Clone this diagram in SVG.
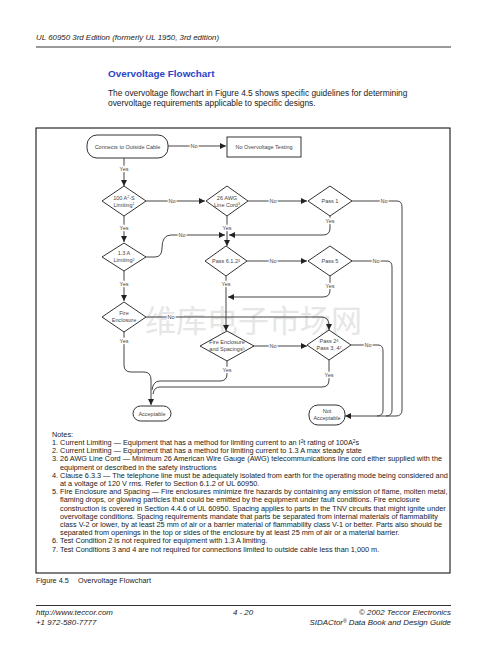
<svg xmlns="http://www.w3.org/2000/svg" width="504" height="648" viewBox="0 0 504 648">
<style>
.hdr{font-family:"Liberation Sans",Arial,sans-serif;font-style:italic;font-size:7.9px;fill:#222}
.ttl{font-family:"Liberation Sans",Arial,sans-serif;font-weight:bold;font-size:9.9px;fill:#2b44c8}
.para{font-family:"Liberation Sans",Arial,sans-serif;font-size:8.4px;fill:#222}
.note{font-family:"Liberation Sans",Arial,sans-serif;font-size:7.3px;fill:#222}
.fc{font-family:"Liberation Sans",Arial,sans-serif;font-size:5.5px;fill:#444;text-anchor:middle}
.lbl{font-family:"Liberation Sans",Arial,sans-serif;font-size:5.5px;fill:#444;text-anchor:middle;stroke:#fff;stroke-width:2.5px;paint-order:stroke}
.shape{fill:#fff;stroke:#333;stroke-width:1}
.con{fill:none;stroke:#444;stroke-width:1}
.wm{font-family:"Noto Sans CJK SC",sans-serif;font-size:31px;fill:#e6e6e6}
</style>
<defs>
<marker id="ah" viewBox="0 0 10 10" refX="10" refY="5" markerWidth="6" markerHeight="6" markerUnits="userSpaceOnUse" orient="auto">
<path d="M0,0 L10,5 L0,10 z" fill="#222"/>
</marker>
</defs>
<rect width="504" height="648" fill="#fff"/>
<text class="hdr" x="36" y="40">UL 60950 3rd Edition (formerly UL 1950, 3rd edition)</text>
<line x1="36" y1="47" x2="451" y2="47" stroke="#000" stroke-width="0.8"/>
<text class="ttl" x="108" y="77">Overvoltage Flowchart</text>
<text class="para" x="108" y="96">The overvoltage flowchart in Figure 4.5 shows specific guidelines for determining</text>
<text class="para" x="108" y="106">overvoltage requirements applicable to specific designs.</text>
<rect x="36" y="128" width="414" height="445" fill="none" stroke="#000" stroke-width="1"/>
<text class="wm" x="145" y="332">维库电子市场网</text>
<g id="connectors">
<path class="con" d="M168,146 H226" marker-end="url(#ah)"/>
<path class="con" d="M124,158 V186" marker-end="url(#ah)"/>
<path class="con" d="M146,201 H205" marker-end="url(#ah)"/>
<path class="con" d="M248,201 H307" marker-end="url(#ah)"/>
<path class="con" d="M352,201 H397 Q402,201 402,207 V410 Q402,416 396,416 H345" marker-end="url(#ah)"/>
<path class="con" d="M351,261 H387 Q392,261 392,267 V410 Q392,416 386,416"/>
<path class="con" d="M351,345 H378 Q383,345 383,351 V410 Q383,416 377,416"/>
<path class="con" d="M124,216 V242" marker-end="url(#ah)"/>
<path class="con" d="M227,216 V246" marker-end="url(#ah)"/>
<path class="con" d="M146,257 H155 Q162,257 162,248 Q162,235 171,235 H225" marker-end="url(#ah)"/>
<path class="con" d="M330,216 V228 Q330,235 323,235 H229" marker-end="url(#ah)"/>
<path class="con" d="M124,271 V301" marker-end="url(#ah)"/>
<path class="con" d="M247,261 H307" marker-end="url(#ah)"/>
<path class="con" d="M226,276 V331" marker-end="url(#ah)"/>
<path class="con" d="M330,275 V290 Q330,297 323,297 H228" marker-end="url(#ah)"/>
<path class="con" d="M146,317 H321 Q329,317 329,325 V330" marker-end="url(#ah)"/>
<path class="con" d="M124,332 V365 Q124,372 131,372 H144 Q151,372 151,380 V405" marker-end="url(#ah)"/>
<path class="con" d="M227,361 V374 Q227,381 220,381 H160 Q153,381 152,390"/>
<path class="con" d="M329,360 V380 Q329,387 322,387 H160 Q154,387 153,394"/>
<path class="con" d="M253,346 H307" marker-end="url(#ah)"/>
<text class="lbl" x="194" y="148">No</text>
<text class="lbl" x="124" y="171">Yes</text>
<text class="lbl" x="172" y="203">No</text>
<text class="lbl" x="273" y="203">No</text>
<text class="lbl" x="384" y="203">No</text>
<text class="lbl" x="124" y="230">Yes</text>
<text class="lbl" x="227" y="230">Yes</text>
<text class="lbl" x="330" y="223">Yes</text>
<text class="lbl" x="182" y="237">No</text>
<text class="lbl" x="273" y="263">No</text>
<text class="lbl" x="376" y="263">No</text>
<text class="lbl" x="124" y="286">Yes</text>
<text class="lbl" x="226" y="286">Yes</text>
<text class="lbl" x="330" y="288">Yes</text>
<text class="lbl" x="171" y="319">No</text>
<text class="lbl" x="124" y="343">Yes</text>
<text class="lbl" x="273" y="348">No</text>
<text class="lbl" x="368" y="347">No</text>
<text class="lbl" x="227" y="372">Yes</text>
<text class="lbl" x="329" y="377">Yes</text>
</g>
<g id="start">
<rect class="shape" x="87" y="135" width="81" height="23" rx="10"/>
<text class="fc" x="127.5" y="148.5">Connects to Outside Cable</text>
</g>
<g id="no-testing">
<rect class="shape" x="227" y="137" width="74" height="20"/>
<text class="fc" x="264" y="149">No Overvoltage Testing</text>
</g>
<g id="d-100a2s">
<path class="shape" d="M102,201 L124,186 L146,201 L124,216 z"/>
<text class="fc" x="124" y="199.5">100 A<tspan dy="-1.5" font-size="3.6">2</tspan><tspan dy="1.5">-S</tspan></text>
<text class="fc" x="124" y="206.5">Limiting<tspan dy="-1.5" font-size="3.6">1</tspan></text>
</g>
<g id="d-26awg">
<path class="shape" d="M206,201 L227,186 L248,201 L227,216 z"/>
<text class="fc" x="227" y="199.5">26 AWG</text>
<text class="fc" x="227" y="206.5">Line Cord<tspan dy="-1.5" font-size="3.6">3</tspan></text>
</g>
<g id="d-pass1">
<path class="shape" d="M308,201 L330,186 L352,201 L330,216 z"/>
<text class="fc" x="330" y="203">Pass 1</text>
</g>
<g id="d-13a">
<path class="shape" d="M102,257 L124,243 L146,257 L124,271 z"/>
<text class="fc" x="124" y="255">1.3 A</text>
<text class="fc" x="124" y="262">Limiting<tspan dy="-1.5" font-size="3.6">2</tspan></text>
</g>
<g id="d-pass612">
<path class="shape" d="M205,261 L226,246 L247,261 L226,276 z"/>
<text class="fc" x="226" y="263">Pass 6.1.2<tspan dy="-1.5" font-size="3.6">4</tspan></text>
</g>
<g id="d-pass5">
<path class="shape" d="M308,261 L330,246 L352,261 L330,276 z"/>
<text class="fc" x="330" y="263">Pass 5</text>
</g>
<g id="d-fire">
<path class="shape" d="M102,317 L124,302 L146,317 L124,332 z"/>
<text class="fc" x="124" y="315">Fire</text>
<text class="fc" x="124" y="322">Enclosure</text>
</g>
<g id="d-fire-spacing">
<path class="shape" d="M200,346 L227,331 L254,346 L227,361 z"/>
<text class="fc" x="227" y="344">Fire Enclosure</text>
<text class="fc" x="227" y="351">and Spacings<tspan dy="-1.5" font-size="3.6">5</tspan></text>
</g>
<g id="d-pass2">
<path class="shape" d="M307,345 L329,330 L351,345 L329,360 z"/>
<text class="fc" x="329" y="343">Pass 2<tspan dy="-1.5" font-size="3.6">6</tspan></text>
<text class="fc" x="329" y="350">Pass 3, 4<tspan dy="-1.5" font-size="3.6">7</tspan></text>
</g>
<g id="acceptable">
<rect class="shape" x="133" y="406" width="38" height="15" rx="7.5"/>
<text class="fc" x="152" y="415.5">Acceptable</text>
</g>
<g id="not-acceptable">
<rect class="shape" x="309" y="405" width="36" height="20" rx="9"/>
<text class="fc" x="327" y="413">Not</text>
<text class="fc" x="327" y="420">Acceptable</text>
</g>
<g id="notes">
<text class="note" x="52" y="437">Notes:</text>
<text class="note" x="52" y="445">1. Current Limiting — Equipment that has a method for limiting current to an I<tspan dy="-2.2" font-size="4.8">2</tspan><tspan dy="2.2">t rating of 100A</tspan><tspan dy="-2.2" font-size="4.8">2</tspan><tspan dy="2.2">s</tspan></text>
<text class="note" x="52" y="453.2">2. Current Limiting — Equipment that has a method for limiting current to 1.3 A max steady state</text>
<text class="note" x="52" y="461.4">3. 26 AWG Line Cord — Minimum 26 American Wire Gauge (AWG) telecommunications line cord either supplied with the</text>
<text class="note" x="60" y="469.6">equipment or described in the safety instructions</text>
<text class="note" x="52" y="477.8">4. Clause 6.3.3 — The telephone line must be adequately isolated from earth for the operating mode being considered and</text>
<text class="note" x="60" y="486">at a voltage of 120 V rms. Refer to Section 6.1.2 of UL 60950.</text>
<text class="note" x="52" y="494.2">5. Fire Enclosure and Spacing — Fire enclosures minimize fire hazards by containing any emission of flame, molten metal,</text>
<text class="note" x="60" y="502.4">flaming drops, or glowing particles that could be emitted by the equipment under fault conditions. Fire enclosure</text>
<text class="note" x="60" y="510.6">construction is covered in Section 4.4.6 of UL 60950. Spacing applies to parts in the TNV circuits that might ignite under</text>
<text class="note" x="60" y="518.8">overvoltage conditions. Spacing requirements mandate that parts be separated from internal materials of flammability</text>
<text class="note" x="60" y="527">class V-2 or lower, by at least 25 mm of air or a barrier material of flammability class V-1 or better. Parts also should be</text>
<text class="note" x="60" y="535.2">separated from openings in the top or sides of the enclosure by at least 25 mm of air or a material barrier.</text>
<text class="note" x="52" y="543.4">6. Test Condition 2 is not required for equipment with 1.3 A limiting.</text>
<text class="note" x="52" y="551.6">7. Test Conditions 3 and 4 are not required for connections limited to outside cable less than 1,000 m.</text>
</g>
<text class="note" x="36" y="583">Figure 4.5<tspan x="78">Overvoltage Flowchart</tspan></text>
<line x1="36" y1="605.5" x2="451" y2="605.5" stroke="#000" stroke-width="0.8"/>
<text class="hdr" x="36" y="615">http://www.teccor.com</text>
<text class="hdr" x="36" y="625">+1 972-580-7777</text>
<text class="hdr" x="243" y="615" text-anchor="middle">4 - 20</text>
<text class="hdr" x="451" y="615" text-anchor="end">© 2002 Teccor Electronics</text>
<text class="hdr" x="451" y="625" text-anchor="end">SIDACtor<tspan dy="-2.5" font-size="5">®</tspan><tspan dy="2.5"> Data Book and Design Guide</tspan></text>
</svg>
